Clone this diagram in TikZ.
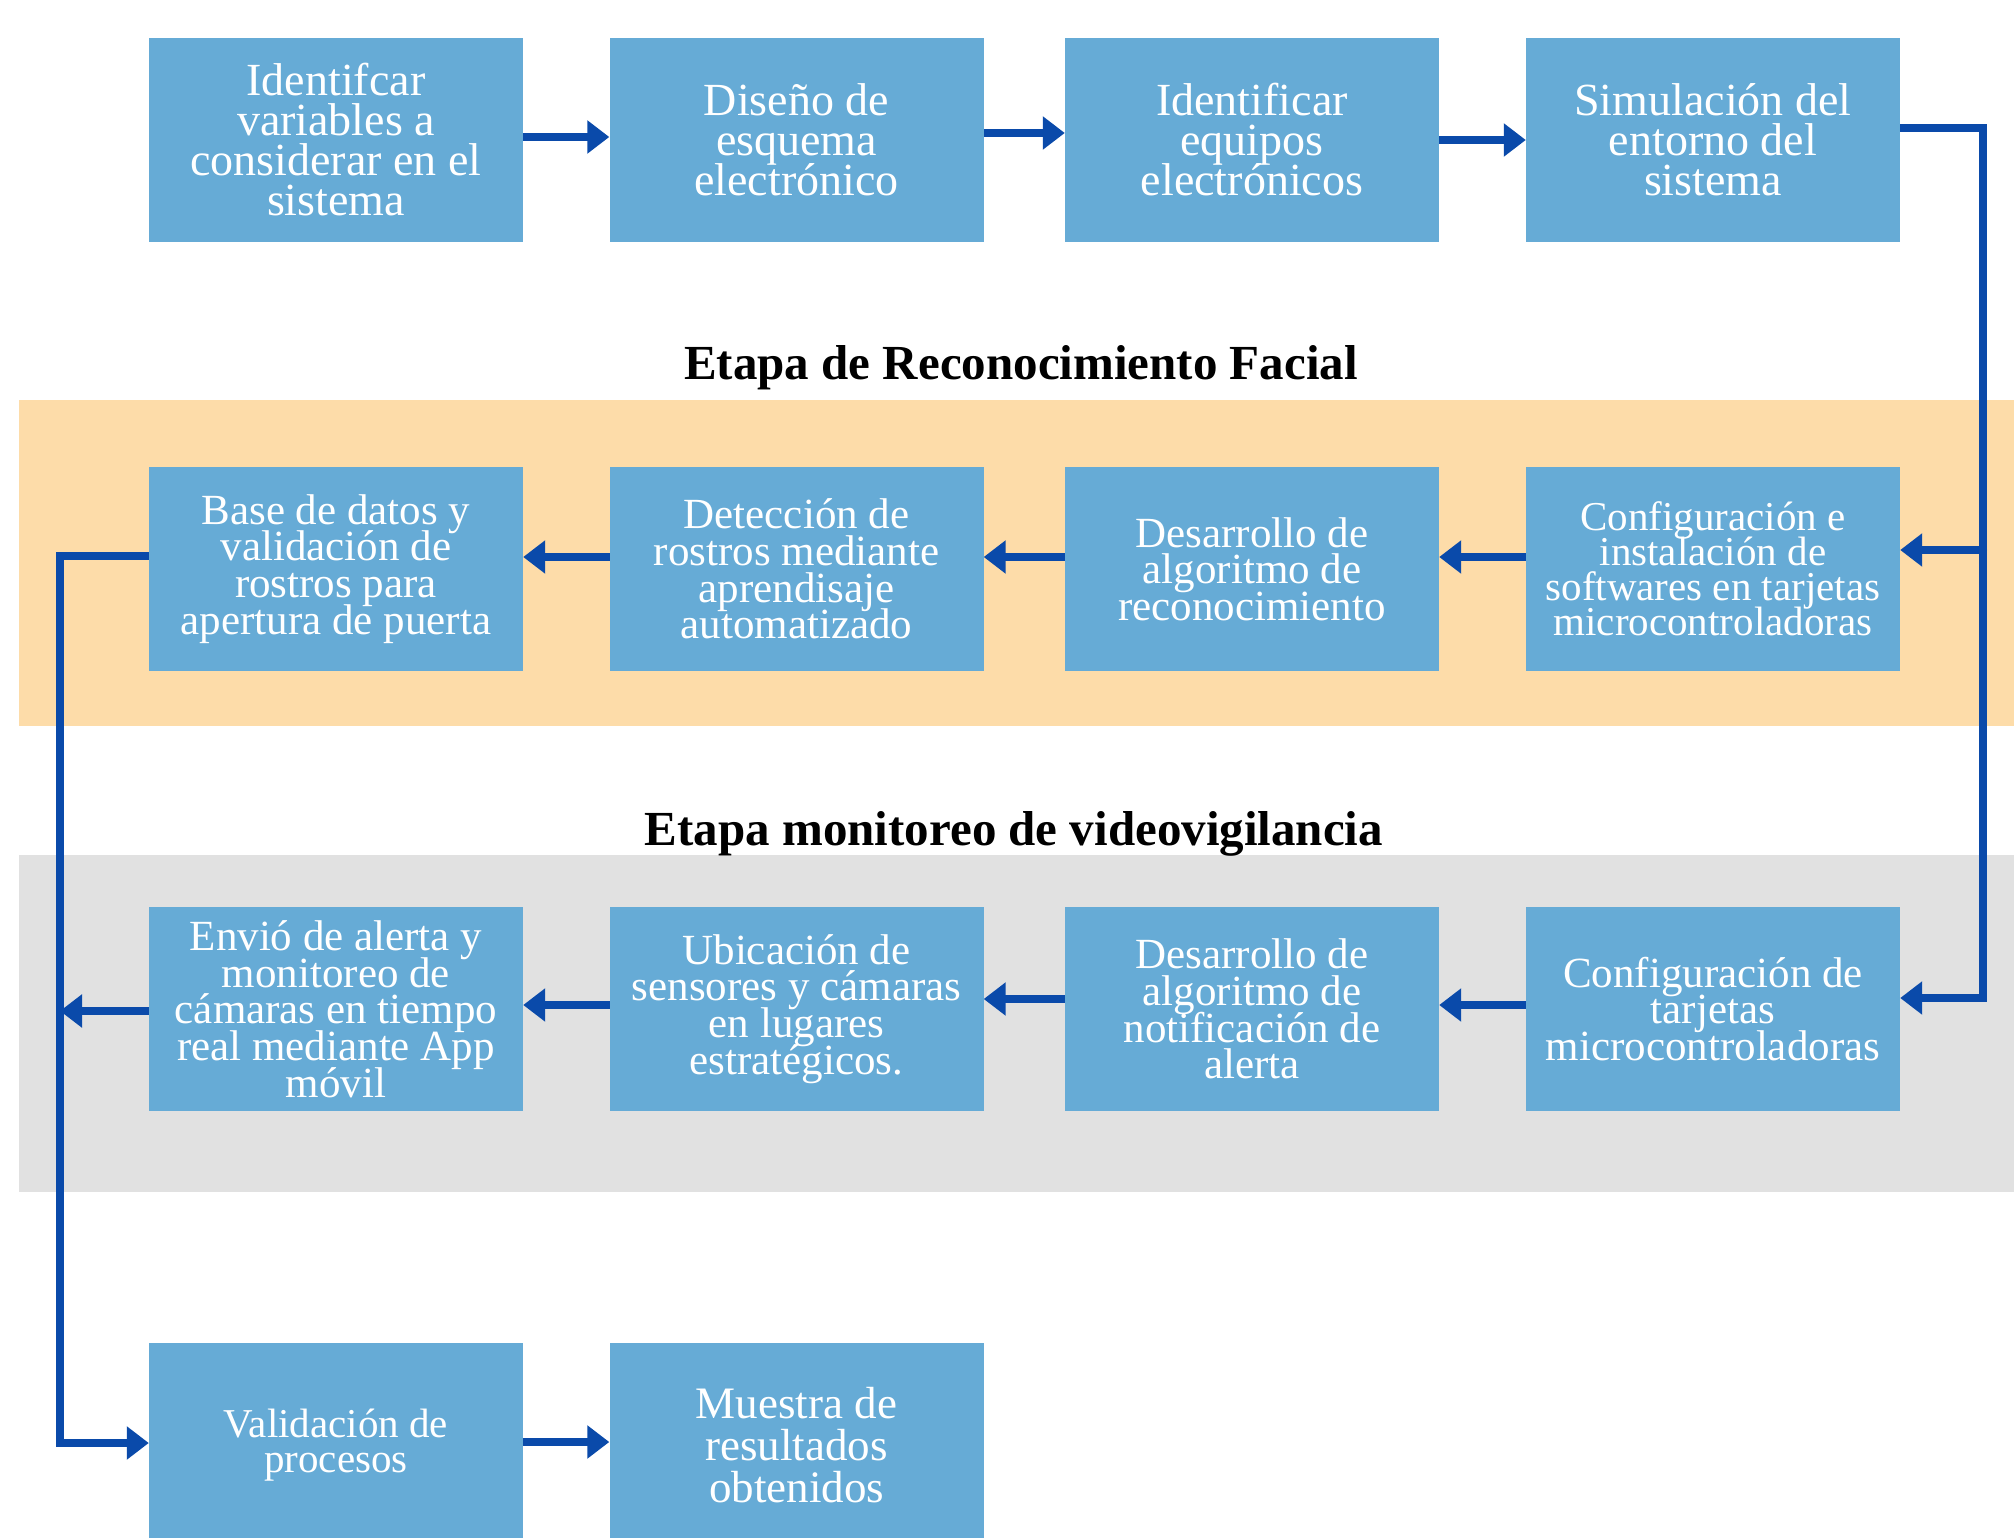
\documentclass[tikz,border=0pt]{standalone}
\usepackage{fontspec}
\setmainfont{Liberation Serif}
\usetikzlibrary{arrows.meta}
\definecolor{boxblue}{RGB}{102,171,214}
\definecolor{bandorange}{RGB}{253,220,169}
\definecolor{bandgray}{RGB}{225,225,225}
\definecolor{arrowblue}{RGB}{10,74,170}
\pgfdeclarelayer{back}
\pgfdeclarelayer{mid}
\pgfsetlayers{back,mid,main}
\lineskiplimit=-200pt
\tikzset{
  stepbox/.style={fill=boxblue, text=white, minimum width=374pt, minimum height=204pt, inner sep=0pt, align=center},
  fA/.style={font=\fontsize{46}{40}\selectfont},
  fB/.style={font=\fontsize{43}{36.7}\selectfont},
  fC/.style={font=\fontsize{41}{35}\selectfont},
  fD/.style={font=\fontsize{45}{42}\selectfont},
  stagetitle/.style={font=\bfseries\fontsize{49}{50}\selectfont, text=black, anchor=base, inner sep=0pt},
  conn/.style={draw=arrowblue, line width=8pt, line cap=round, -{Triangle[length=22pt,width=32pt]}}
}
\begin{document}
\begin{tikzpicture}[x=1pt,y=-1pt]
\useasboundingbox (0,0) rectangle (2014,1538);
\clip (0,0) rectangle (2014,1538);
\begin{pgfonlayer}{back}
  \fill[white] (0,0) rectangle (2014,1538);
  \fill[bandorange] (19,400) rectangle (2014,726);
  \fill[bandgray] (19,855) rectangle (2014,1192);
\end{pgfonlayer}

\node[stagetitle] (t1) at (1021,380) {Etapa de Reconocimiento Facial};
\node[stagetitle] (t2) at (1014,845) {Etapa monitoreo de videovigilancia};

% Row 1
\node[stepbox,fA] (a1) at (336,140) {Identifcar\\variables a\\considerar en el\\sistema};
\node[stepbox,fA] (a2) at (796.5,140) {Diseño de\\esquema\\electrónico};
\node[stepbox,fA] (a3) at (1252,140) {Identificar\\equipos\\electrónicos};
\node[stepbox,fA] (a4) at (1713,140) {Simulación del\\entorno del\\sistema};
% Row 2
\node[stepbox,fB] (b1) at (336,569) {Base de datos y\\validación de\\rostros para\\apertura de puerta};
\node[stepbox,fB] (b2) at (796.5,569) {Detección de\\rostros mediante\\aprendisaje\\automatizado};
\node[stepbox,fB] (b3) at (1252,569) {Desarrollo de\\algoritmo de\\reconocimiento};
\node[stepbox,fC] (b4) at (1713,569) {Configuración e\\instalación de\\softwares en tarjetas\\microcontroladoras};
% Row 3
\node[stepbox,fB] (c1) at (336,1009) {Envió de alerta y\\monitoreo de\\cámaras en tiempo\\real mediante App\\móvil};
\node[stepbox,fB] (c2) at (796.5,1009) {Ubicación de\\sensores y cámaras\\en lugares\\estratégicos.};
\node[stepbox,fB] (c3) at (1252,1009) {Desarrollo de\\algoritmo de\\notificación de\\alerta};
\node[stepbox,fB] (c4) at (1713,1009) {Configuración de\\tarjetas\\microcontroladoras};
% Row 4
\node[stepbox,fC] (d1) at (336,1445) {Validación de\\procesos};
\node[stepbox,fD] (d2) at (796.5,1445) {Muestra de\\resultados\\obtenidos};

\coordinate (rtop) at (1983,128);
\coordinate (rmid) at (1983,550);
\coordinate (rbot) at (1983,998);
\coordinate (ltop) at (60,556);
\coordinate (lmid) at (60,1011);
\coordinate (lbot) at (60,1443);

\begin{pgfonlayer}{mid}
  % row 1
  \draw[conn] ([yshift=3pt]a1.east) -- ([yshift=3pt]a2.west);
  \draw[conn] ([yshift=7pt]a2.east) -- ([yshift=7pt]a3.west);
  \draw[conn] (a3.east) -- (a4.west);
  % right return line
  \draw[conn] ([yshift=12pt]a4.east) -- (rtop) -- (rbot) -- (c4.east |- rbot);
  \draw[conn] (rmid) -- (b4.east |- rmid);
  % row 2
  \draw[conn] ([yshift=12pt]b4.west) -- ([yshift=12pt]b3.east);
  \draw[conn] ([yshift=12pt]b3.west) -- ([yshift=12pt]b2.east);
  \draw[conn] ([yshift=12pt]b2.west) -- ([yshift=12pt]b1.east);
  % row 3
  \draw[conn] ([yshift=4pt]c4.west) -- ([yshift=4pt]c3.east);
  \draw[conn] ([yshift=10pt]c3.west) -- ([yshift=10pt]c2.east);
  \draw[conn] ([yshift=4pt]c2.west) -- ([yshift=4pt]c1.east);
  \draw[conn] (c1.west |- lmid) -- (lmid);
  % left line
  \draw[conn] (b1.west |- ltop) -- (ltop) -- (lbot) -- (d1.west |- lbot);
  % row 4
  \draw[conn] ([yshift=3pt]d1.east) -- ([yshift=3pt]d2.west);
\end{pgfonlayer}
\end{tikzpicture}
\end{document}
